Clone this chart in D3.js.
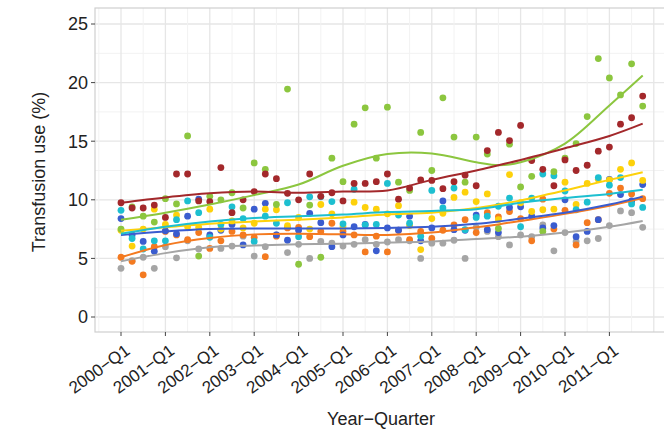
<!DOCTYPE html>
<html><head><meta charset="utf-8">
<script src="https://cdn.jsdelivr.net/npm/d3@7"></script>
<style>body{margin:0;background:#fff} svg{display:block} text{font-family:"Liberation Sans",Arial,Helvetica,sans-serif}</style>
</head><body><svg id="chart" width="664" height="432"></svg>
<script>
// ---- data ----
const years = [2000,2001,2002,2003,2004,2005,2006,2007,2008,2009,2010,2011];
const quarters = years.flatMap(y => ["Q1","Q2","Q3","Q4"].map(q => y + "\u2212" + q));
const tickLabels = ["2000\u2212Q1","2001\u2212Q1","2002\u2212Q1","2003\u2212Q1","2004\u2212Q1","2005\u2212Q1","2006\u2212Q1","2007\u2212Q1","2008\u2212Q1","2009\u2212Q1","2010\u2212Q1","2011\u2212Q1"];
const yTicks = [0,5,10,15,20,25];

const red    = [9.75,9.3,9.3,9.55,8.5,12.2,12.2,9.9,9.85,12.75,8.9,10.0,10.7,12.2,11.8,10.55,10.0,12.2,10.3,10.6,9.9,11.4,11.4,11.55,12.2,10.05,11.0,11.7,11.65,10.95,11.55,12.1,11.2,14.2,15.75,15.05,16.35,13.35,12.6,11.2,13.4,12.5,12.95,14.15,14.5,16.45,17.0,18.85];
const green  = [7.5,9.4,8.6,8.1,10.1,9.65,15.45,5.2,10.3,10.0,10.6,9.3,13.15,12.6,9.6,19.45,4.5,9.55,5.1,13.55,11.55,16.45,17.85,13.55,17.9,11.5,10.8,15.75,12.5,18.7,15.35,11.5,15.35,13.9,7.55,14.75,11.1,12.0,7.3,12.4,13.55,14.8,17.1,22.05,20.4,18.95,21.6,18.0];
const cyan   = [9.1,6.7,5.8,6.5,6.5,8.3,9.9,8.9,6.8,7.9,9.4,8.4,6.45,8.6,8.0,9.75,6.85,10.25,10.25,9.85,7.95,10.9,7.85,7.9,11.4,8.7,8.0,6.9,10.8,9.3,11.0,7.45,8.5,8.6,9.45,10.15,7.7,10.15,12.2,12.05,10.75,9.15,9.8,11.9,11.25,11.9,9.65,9.35];
const yellow = [7.4,6.05,7.5,9.2,7.9,8.7,7.7,7.65,9.2,7.5,8.2,7.6,8.0,9.2,9.15,7.8,8.5,7.5,9.6,8.8,7.7,9.8,9.35,9.2,8.8,9.5,7.8,5.75,8.4,8.85,10.2,10.65,9.85,10.5,8.3,12.15,9.75,9.0,9.15,9.2,11.5,9.6,11.4,11.75,11.7,12.6,13.15,11.65];
const blue   = [8.4,7.0,6.45,5.6,7.35,7.1,8.6,10.05,7.0,7.4,7.9,6.15,9.2,9.7,7.0,6.55,7.4,8.85,8.05,6.0,7.0,7.7,7.9,5.65,7.6,7.4,8.6,6.5,7.6,9.9,7.45,7.4,8.7,7.45,7.2,9.35,9.4,8.6,7.6,7.8,10.0,6.85,7.3,8.3,11.75,10.45,9.9,11.3];
const orange = [5.1,4.75,3.6,6.0,7.3,7.0,6.6,7.2,5.85,6.5,7.3,7.0,6.8,5.15,6.9,7.6,7.65,6.85,7.3,8.0,7.3,7.0,5.55,6.9,5.55,7.4,6.6,7.3,6.7,7.4,7.85,8.3,7.2,8.9,8.55,9.0,8.4,6.5,10.05,7.5,9.1,6.15,8.05,8.3,10.55,11.0,10.5,10.1];
const gray   = [4.15,4.8,5.1,4.15,6.0,5.05,6.5,5.8,6.85,5.85,6.05,6.9,5.2,6.0,7.0,5.5,6.2,5.0,6.45,6.3,6.05,6.2,6.6,6.2,6.4,6.6,6.5,5.0,6.3,6.3,6.55,5.0,7.65,7.3,6.85,6.15,7.0,6.85,7.85,5.65,7.2,6.45,6.5,6.7,7.8,9.05,8.9,7.65];

// smoothed trend values read at these quarter indices
const smoothIdx    = [0,4,8,12,16,20,24,28,32,34,36,40,44,47];
const redSmooth    = [9.75,10.2,10.55,10.7,10.6,10.7,10.8,11.7,12.5,12.95,13.4,14.4,15.45,16.5];
const greenSmooth  = [8.3,8.9,9.6,10.4,11.3,12.9,13.9,13.95,13.2,12.95,13.2,14.8,18.05,20.6];
const cyanSmooth   = [7.1,7.7,8.15,8.45,8.6,8.75,8.95,9.05,9.2,9.45,9.75,10.15,10.5,10.85];
const yellowSmooth = [7.35,7.65,7.95,8.15,8.3,8.5,8.75,8.9,9.3,9.6,9.95,10.8,11.7,12.35];
const blueSmooth   = [7.0,7.3,7.5,7.55,7.55,7.55,7.6,7.7,7.95,8.15,8.4,8.9,9.6,10.27];
const orangeSmooth = [5.1,6.15,6.75,7.05,7.1,7.05,7.0,7.2,7.65,7.9,8.2,8.8,9.5,10.15];
const graySmooth   = [4.75,5.45,5.95,6.1,6.2,6.25,6.35,6.45,6.65,6.75,6.85,7.2,7.7,8.2];

const series = [
  {name:"gray",   color:"#a5a5a5", pts:gray,   sm:graySmooth},
  {name:"orange", color:"#f47a20", pts:orange, sm:orangeSmooth},
  {name:"blue",   color:"#3a5ccf", pts:blue,   sm:blueSmooth},
  {name:"yellow", color:"#fdd10b", pts:yellow, sm:yellowSmooth},
  {name:"cyan",   color:"#1dbfd0", pts:cyan,   sm:cyanSmooth},
  {name:"green",  color:"#8cc63f", pts:green,  sm:greenSmooth},
  {name:"red",    color:"#a3282b", pts:red,    sm:redSmooth}
];

// ---- layout ----
const svg = d3.select("#chart");
const P = {left:95, right:670, top:8, bottom:332};
const x = d3.scaleLinear().domain([0, quarters.length - 1]).range([121, 642.7]);
const y = d3.scaleLinear().domain([0, 25]).range([317, 24]);
const xq = d => x(quarters.indexOf(d));

svg.append("rect").attr("width",664).attr("height",432).attr("fill","#fff");

// grid
const g = svg.append("g");
const yMinor = d3.range(-2.5, 27.5, 5).filter(v => y(v) > P.top && y(v) < P.bottom);
g.selectAll(".hmin").data(yMinor).join("line")
  .attr("x1",P.left).attr("x2",P.right).attr("y1",d=>y(d)).attr("y2",d=>y(d))
  .attr("stroke","#f2f2f2").attr("stroke-width",1);
g.selectAll(".hmaj").data(yTicks).join("line")
  .attr("x1",P.left).attr("x2",P.right).attr("y1",d=>y(d)).attr("y2",d=>y(d))
  .attr("stroke","#e6e6e6").attr("stroke-width",1.3);
const vIdx = d3.range(-2, 52, 2).filter(i => x(i) > P.left && x(i) < P.right);
g.selectAll(".v").data(vIdx).join("line")
  .attr("x1",d=>x(d)).attr("x2",d=>x(d)).attr("y1",P.top).attr("y2",P.bottom)
  .attr("stroke",d => (d % 4 === 0) ? "#e6e6e6" : "#f2f2f2")
  .attr("stroke-width",d => (d % 4 === 0) ? 1.3 : 1);

// points
series.forEach(s => {
  svg.append("g").selectAll("circle").data(s.pts).join("circle")
    .attr("cx",(d,i)=>x(i)).attr("cy",d=>y(d)).attr("r",3.4)
    .attr("fill",s.color);
});

// smooth lines
const line = d3.line().x(d=>x(d[0])).y(d=>y(d[1])).curve(d3.curveCatmullRom.alpha(0.5));
series.forEach(s => {
  svg.append("path").datum(smoothIdx.map((k,j)=>[k, s.sm[j]]))
    .attr("d",line).attr("fill","none").attr("stroke",s.color).attr("stroke-width",2);
});

// panel border
svg.append("rect").attr("x",P.left).attr("y",P.top).attr("width",P.right-P.left).attr("height",P.bottom-P.top)
  .attr("fill","none").attr("stroke","#cfcfcf").attr("stroke-width",1.2);

// y axis
const yAx = svg.append("g");
yAx.selectAll("line").data(yTicks).join("line")
  .attr("x1",P.left-4).attr("x2",P.left).attr("y1",d=>y(d)).attr("y2",d=>y(d))
  .attr("stroke","#444").attr("stroke-width",1);
yAx.selectAll("text").data(yTicks).join("text")
  .attr("x",P.left-7).attr("y",d=>y(d)).attr("dy","0.36em")
  .attr("text-anchor","end").attr("font-size",18).attr("fill","#222").text(d=>d);

// x axis
const xAx = svg.append("g");
xAx.selectAll("line").data(tickLabels).join("line")
  .attr("x1",xq).attr("x2",xq).attr("y1",P.bottom).attr("y2",P.bottom+4)
  .attr("stroke","#444").attr("stroke-width",1);
xAx.selectAll("text").data(tickLabels).join("text")
  .attr("transform",d=>`translate(${xq(d)+3},${P.bottom+11}) rotate(-36)`)
  .attr("text-anchor","end").attr("dy","0.72em")
  .attr("font-size",17).attr("fill","#222").text(d=>d);

// titles
svg.append("text").attr("x",381).attr("y",425).attr("text-anchor","middle")
  .attr("font-size",18).attr("fill","#222").text("Year\u2212Quarter");
svg.append("text").attr("transform","translate(45,172) rotate(-90)").attr("text-anchor","middle")
  .attr("font-size",18).attr("fill","#222").text("Transfusion use (%)");
</script></body></html>
